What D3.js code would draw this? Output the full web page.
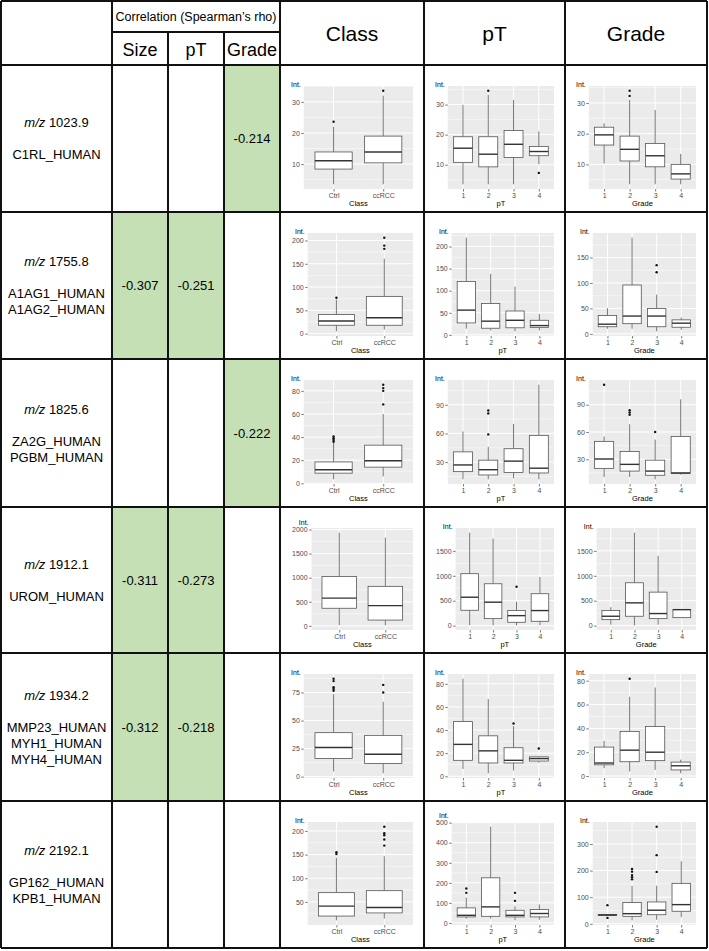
<!DOCTYPE html>
<html>
<head>
<meta charset="utf-8">
<script src="https://cdn.jsdelivr.net/npm/d3@7"></script>
<style>
  body { margin: 0; background: #fff; }
  svg { opacity: 0.999; }
  text { font-family: "Liberation Sans", Arial, sans-serif; }
</style>
</head>
<body>
<svg id="chart" width="709" height="951"></svg>
<script>
// ---- data ----
var mzValues = ["1023.9", "1755.8", "1825.6", "1912.1", "1934.2", "2192.1"];
var proteins = [
    ["C1RL_HUMAN"],
    ["A1AG1_HUMAN", "A1AG2_HUMAN"],
    ["ZA2G_HUMAN", "PGBM_HUMAN"],
    ["UROM_HUMAN"],
    ["MMP23_HUMAN", "MYH1_HUMAN", "MYH4_HUMAN"],
    ["GP162_HUMAN", "KPB1_HUMAN"]
];
var rhoSize = [null, -0.307, null, -0.311, -0.312, null];
var rhoPT = [null, -0.251, null, -0.273, -0.218, null];
var rhoGrade = [-0.214, null, -0.222, null, null, null];

var classLevels = ["Ctrl", "ccRCC"];
var ptLevels = ["1", "2", "3", "4"];
var gradeLevels = ["1", "2", "3", "4"];

// box stats: [lower whisker, q1, median, q3, upper whisker]
var classBoxes = [
    [[3.5, 8.4, 11.1, 13.9, 22], [3.5, 10.4, 13.9, 19, 32]],
    [[5, 18, 27, 41, 73], [9, 18, 34, 80, 161]],
    [[3.5, 8.8, 11.8, 18.5, 35], [6, 14, 19.5, 33, 60]],
    [[15, 365, 575, 1025, 1935], [10, 120, 420, 820, 1830]],
    [[4.6, 16.2, 26, 39.2, 73.5], [3, 11.7, 20, 36.8, 66.8]],
    [[11, 20, 41, 69.5, 143], [14.5, 26.6, 38, 73.7, 146.5]]
];
var classOutliers = [
    [[23.6], [33.6]],
    [[77], [182, 189, 206]],
    [[36, 37.5, 39, 40.5], [68.3, 80, 82.4, 85.3]],
    [[], []],
    [[76.6, 78.2, 79.7, 85.2, 87.3], [75, 81.8]],
    [[151, 155], [169, 182, 191, 195, 209]]
];
var classTicks = [[10, 20, 30], [0, 50, 100, 150, 200], [0, 20, 40, 60, 80],
    [0, 500, 1000, 1500, 2000], [0, 25, 50, 75], [50, 100, 150, 200]];

var ptBoxes = [
    [[3.5, 10.8, 15.5, 19.3, 29.9], [3.5, 9.3, 13.5, 19.3, 33.2], [3.5, 12.4, 16.8, 21.4, 31.5], [10.2, 13, 14.4, 16.1, 21.1]],
    [[14, 27, 56, 121, 220], [10, 15, 31, 71, 138], [8, 16, 33, 54, 109], [10, 17, 21, 33, 47]],
    [[12, 20, 27, 40.7, 62], [12, 16.5, 22, 32, 46], [13, 19, 31, 44, 70], [12, 18.6, 23.6, 58, 111]],
    [[10, 308, 570, 1042, 1866], [5, 140, 470, 840, 1748], [5, 67, 200, 302, 478], [10, 87, 302, 640, 975]],
    [[6.4, 13.8, 27.6, 47.3, 84.4], [2.6, 11.5, 22, 35, 66.8], [5, 11.5, 13.8, 24.7, 43.3], [12, 13.2, 15.3, 16.8, 17.5]],
    [[21, 30, 38, 75, 126], [21, 33, 80, 225, 480], [13, 30, 38, 63, 83], [16, 30, 47, 67, 92]]
];
var ptOutliers = [
    [[], [34.6], [], [7.3]],
    [[], [], [], []],
    [[], [59, 81, 84], [], []],
    [[], [], [780], []],
    [[], [], [45.6], [24]],
    [[150, 172], [], [110, 150], []]
];
var ptTicks = [[10, 20, 30], [0, 50, 100, 150, 200], [30, 60, 90],
    [0, 500, 1000, 1500], [0, 20, 40, 60, 80], [0, 100, 200, 300, 400, 500]];

var gradeBoxes = [
    [[10.3, 16.3, 19.6, 22.1, 23.4], [3.5, 11.1, 14.9, 19.2, 31], [3.5, 9.2, 12.8, 16.8, 27.7], [3.5, 5.2, 6.9, 10, 13.4]],
    [[10, 14, 19, 36, 50.5], [10, 20, 35, 96, 189], [5, 14, 35, 50, 77], [8, 13, 21, 27.5, 32]],
    [[10.5, 20, 30.3, 49.7, 55], [10.5, 17, 24.4, 38.5, 68.5], [8, 12.4, 17, 29, 51.6], [13, 14.3, 15, 55, 96]],
    [[20, 120, 188, 302, 370], [5, 188, 457, 860, 1866], [20, 140, 242, 672, 1400], [150, 160, 320, 325, 330]],
    [[6.6, 9.4, 10.9, 24.3, 29.5], [3.8, 12, 21.7, 37.4, 66.6], [5.1, 12.9, 20, 41.5, 74.3], [2.3, 5.1, 8.6, 11.7, 13.7]],
    [[30, 31, 33, 35, 37], [13, 28, 38, 80, 142], [15, 34, 51, 82, 143], [25, 47, 72, 152, 235]]
];
var gradeOutliers = [
    [[], [32.3, 34], [], []],
    [[], [], [121, 135], []],
    [[112], [79, 81.5, 84], [60], []],
    [[], [], [], []],
    [[], [81.7], [], []],
    [[22, 70], [167, 175, 183, 196, 206], [195, 258, 365], []]
];
var gradeTicks = [[10, 20, 30], [0, 50, 100, 150], [30, 60, 90],
    [0, 500, 1000, 1500], [0, 20, 40, 60, 80], [0, 100, 200, 300]];

// ---- layout ----
var svg = d3.select("#chart");
var colX = [1, 112, 168, 224, 280, 424, 565, 707];
var rowY = [1, 65, 212, 359, 507, 653, 801, 948];
var subY = 32;
var green = "#c5e0b4";

// green cells with rho values
var rhoCols = [rhoSize, rhoPT, rhoGrade];
rhoCols.forEach(function (vals, c) {
    vals.forEach(function (v, r) {
        var x0 = colX[c + 1], x1 = colX[c + 2];
        var y0 = rowY[r + 1], y1 = rowY[r + 2];
        if (v !== null) {
            svg.append("rect")
                .attr("x", x0).attr("y", y0)
                .attr("width", x1 - x0).attr("height", y1 - y0)
                .attr("fill", green);
            svg.append("text")
                .attr("x", (x0 + x1) / 2).attr("y", (y0 + y1) / 2)
                .attr("dy", "0.35em")
                .attr("text-anchor", "middle")
                .attr("font-size", 13)
                .text(v.toFixed(3));
        }
    });
});

// header text
svg.append("text")
    .attr("x", (colX[1] + colX[4]) / 2).attr("y", subY / 2 + 1)
    .attr("dy", "0.35em").attr("text-anchor", "middle")
    .attr("font-size", 12.5)
    .text("Correlation (Spearman\u2019s rho)");

["Size", "pT", "Grade"].forEach(function (t, i) {
    svg.append("text")
        .attr("x", (colX[i + 1] + colX[i + 2]) / 2).attr("y", (subY + rowY[1]) / 2 + 1)
        .attr("dy", "0.35em").attr("text-anchor", "middle")
        .attr("font-size", 18)
        .text(t);
});

["Class", "pT", "Grade"].forEach(function (t, i) {
    svg.append("text")
        .attr("x", (colX[i + 4] + colX[i + 5]) / 2).attr("y", rowY[1] / 2 + 1)
        .attr("dy", "0.35em").attr("text-anchor", "middle")
        .attr("font-size", 21)
        .text(t);
});

// row labels
mzValues.forEach(function (mz, r) {
    var names = proteins[r];
    var cy = (rowY[r + 1] + rowY[r + 2]) / 2;
    var cx = (colX[0] + colX[1]) / 2;
    var top = cy - (32 + 16 * (names.length - 1)) / 2;
    var t = svg.append("text")
        .attr("x", cx).attr("y", top).attr("dy", "0.35em")
        .attr("text-anchor", "middle").attr("font-size", 13);
    t.append("tspan").attr("font-style", "italic").text("m/z");
    t.append("tspan").text(" " + mz);
    names.forEach(function (n, i) {
        svg.append("text")
            .attr("x", cx).attr("y", top + 32 + 16 * i).attr("dy", "0.35em")
            .attr("text-anchor", "middle").attr("font-size", 13)
            .text(n);
    });
});

// box plot panels
function drawPanel(x0, y0, x1, y1, levels, boxes, outliers, ticks, title) {
    var g = svg.append("g");
    var vals = [];
    boxes.forEach(function (b) { vals.push(b[0], b[4]); });
    outliers.forEach(function (o) { vals = vals.concat(o); });
    var lo = d3.min(vals), hi = d3.max(vals), pad = (hi - lo) * 0.05;

    var maxChars = d3.max(ticks, function (t) { return String(t).length; });
    var left = x0 + 16 + maxChars * 3.9,
        right = x1 - 11,
        top = y0 + 21,
        bottom = y1 - 23;

    var y = d3.scaleLinear().domain([lo - pad, hi + pad]).range([bottom, top]);
    var x = d3.scalePoint().domain(levels).range([left, right]).padding(0.6);
    var bw = x.step() * 0.75;
    var dom = y.domain();
    var shown = ticks.filter(function (t) { return t >= dom[0] && t <= dom[1]; });
    var stepT = ticks[1] - ticks[0];
    var minor = [];
    for (var m = ticks[0] - stepT / 2; m <= dom[1]; m += stepT) {
        if (m >= dom[0]) minor.push(m);
    }

    g.append("rect")
        .attr("x", left).attr("y", top)
        .attr("width", right - left).attr("height", bottom - top)
        .attr("fill", "#ebebeb");

    g.selectAll(".minor").data(minor).enter().append("line")
        .attr("x1", left).attr("x2", right)
        .attr("y1", function (d) { return y(d); }).attr("y2", function (d) { return y(d); })
        .attr("stroke", "#fff").attr("stroke-width", 0.5);
    g.selectAll(".major").data(shown).enter().append("line")
        .attr("x1", left).attr("x2", right)
        .attr("y1", function (d) { return y(d); }).attr("y2", function (d) { return y(d); })
        .attr("stroke", "#fff").attr("stroke-width", 1);
    g.selectAll(".vgrid").data(levels).enter().append("line")
        .attr("x1", function (d) { return x(d); }).attr("x2", function (d) { return x(d); })
        .attr("y1", top).attr("y2", bottom)
        .attr("stroke", "#fff").attr("stroke-width", 1);

    // axes
    var ya = g.append("g").attr("transform", "translate(" + left + ",0)")
        .call(d3.axisLeft(y).tickValues(shown).tickFormat(d3.format("d")).tickSize(2.5).tickPadding(1.5));
    var xa = g.append("g").attr("transform", "translate(0," + bottom + ")")
        .call(d3.axisBottom(x).tickSize(2.5).tickPadding(1.5));
    [ya, xa].forEach(function (a) {
        a.select(".domain").remove();
        a.selectAll("line").attr("stroke", "#444").attr("stroke-width", 0.7);
        a.selectAll("text").attr("fill", "#4d4d4d").attr("font-size", 7)
            .attr("font-family", "Liberation Sans, Arial, sans-serif");
    });

    g.append("text")
        .attr("x", (left + right) / 2).attr("y", bottom + 16.5)
        .attr("text-anchor", "middle").attr("font-size", 7.5)
        .text(title);
    var topTick = d3.max(shown);
    g.append("text")
        .attr("x", left - 3).attr("y", Math.min(top + 1, y(topTick) - 4.5))
        .attr("text-anchor", "end").attr("font-size", 7)
        .text("Int.");

    // boxes
    levels.forEach(function (lv, i) {
        var b = boxes[i], cx = x(lv);
        g.append("line")
            .attr("x1", cx).attr("x2", cx).attr("y1", y(b[0])).attr("y2", y(b[1]))
            .attr("stroke", "#555").attr("stroke-width", 0.8);
        g.append("line")
            .attr("x1", cx).attr("x2", cx).attr("y1", y(b[3])).attr("y2", y(b[4]))
            .attr("stroke", "#555").attr("stroke-width", 0.8);
        g.append("rect")
            .attr("x", cx - bw / 2).attr("y", y(b[3]))
            .attr("width", bw).attr("height", y(b[1]) - y(b[3]))
            .attr("fill", "#fff").attr("stroke", "#555").attr("stroke-width", 0.8);
        g.append("line")
            .attr("x1", cx - bw / 2).attr("x2", cx + bw / 2)
            .attr("y1", y(b[2])).attr("y2", y(b[2]))
            .attr("stroke", "#333").attr("stroke-width", 1.4);
        g.selectAll(null).data(outliers[i]).enter().append("circle")
            .attr("cx", cx).attr("cy", function (d) { return y(d); })
            .attr("r", 1.2).attr("fill", "#111");
    });
}

for (var r = 0; r < 6; r++) {
    var ry0 = rowY[r + 1], ry1 = rowY[r + 2];
    drawPanel(colX[4], ry0, colX[5], ry1, classLevels, classBoxes[r], classOutliers[r], classTicks[r], "Class");
    drawPanel(colX[5], ry0, colX[6], ry1, ptLevels, ptBoxes[r], ptOutliers[r], ptTicks[r], "pT");
    drawPanel(colX[6], ry0, colX[7], ry1, gradeLevels, gradeBoxes[r], gradeOutliers[r], gradeTicks[r], "Grade");
}

// table grid
var grid = svg.append("g").attr("stroke", "#111").attr("stroke-width", 2);
colX.forEach(function (x, i) {
    var yStart = (i === 2 || i === 3) ? subY : rowY[0];
    grid.append("line").attr("x1", x).attr("x2", x).attr("y1", yStart).attr("y2", rowY[7]);
});
rowY.forEach(function (y) {
    grid.append("line").attr("x1", colX[0]).attr("x2", colX[7]).attr("y1", y).attr("y2", y);
});
grid.append("line").attr("x1", colX[1]).attr("x2", colX[4]).attr("y1", subY).attr("y2", subY);
</script>
</body>
</html>
